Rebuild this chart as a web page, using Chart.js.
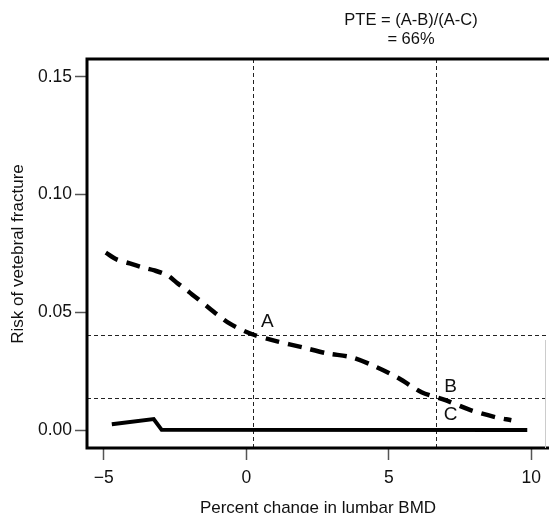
<!DOCTYPE html>
<html>
<head>
<meta charset="utf-8">
<script src="https://cdn.jsdelivr.net/npm/chart.js@4/dist/chart.umd.min.js"></script>
<style>
  html, body { margin: 0; padding: 0; background: #fff; }
  #wrap { width: 549px; height: 513px; position: relative; }
</style>
</head>
<body>
<div id="wrap"><canvas id="c" width="549" height="513"></canvas></div>
<script>
// Data
const treatedX = [-4.93, -4.55, -4.09, -3.64, -3.22, -2.76, -2.45, -2.03, -1.33, -0.59, 0.21, 1.08, 1.96, 2.83, 3.71, 4.58, 5.35, 6.15, 6.99, 7.87, 8.74, 9.30];
const treatedY = [0.0754, 0.0725, 0.0708, 0.0691, 0.0678, 0.0657, 0.0627, 0.0589, 0.0521, 0.0453, 0.0407, 0.0377, 0.0352, 0.0326, 0.0309, 0.0267, 0.0220, 0.0161, 0.0127, 0.0085, 0.0055, 0.0042];
const controlX = [-4.72, -3.25, -2.97, 9.86];
const controlY = [0.0025, 0.0047, 0.0001, 0.0];
const refX = [0.25, 6.64];          // vertical dotted lines
const refY = [0.0403, 0.0136];      // horizontal dotted lines
const xTicks = [-5, 0, 5, 10];
const yTicks = [0.00, 0.05, 0.10, 0.15];
const pointLabels = [
  { text: 'A', x: 0.74, y: 0.0462 },
  { text: 'B', x: 7.17, y: 0.0186 },
  { text: 'C', x: 7.17, y: 0.0064 }
];
const titleLines = ['PTE = (A-B)/(A-C)', '= 66%'];
const xTitle = 'Percent change in lumbar BMD';
const yTitle = 'Risk of vetebral fracture';

const FONT = '"Liberation Sans", Arial, Helvetica, sans-serif';

const toPts = (xs, ys) => xs.map((x, i) => ({ x: x, y: ys[i] }));

const decor = {
  id: 'decor',
  beforeDatasetsDraw(chart) {
    const { ctx, chartArea: a, scales: { x, y } } = chart;
    ctx.save();
    ctx.strokeStyle = '#222';
    ctx.lineWidth = 1;
    ctx.setLineDash([4, 3]);
    refX.forEach(v => {
      const px = Math.round(x.getPixelForValue(v)) + 0.5;
      ctx.beginPath(); ctx.moveTo(px, a.top); ctx.lineTo(px, a.bottom); ctx.stroke();
    });
    refY.forEach(v => {
      const py = Math.round(y.getPixelForValue(v)) + 0.5;
      ctx.beginPath(); ctx.moveTo(a.left, py); ctx.lineTo(a.right + 5, py); ctx.stroke();
    });
    ctx.restore();
  },
  afterDraw(chart) {
    const { ctx, chartArea: a, scales: { x, y } } = chart;
    ctx.save();
    // frame (left, top, bottom)
    ctx.strokeStyle = '#000';
    ctx.lineWidth = 3;
    ctx.setLineDash([]);
    ctx.beginPath();
    ctx.moveTo(a.right + 5, a.top);
    ctx.lineTo(a.left, a.top);
    ctx.lineTo(a.left, a.bottom);
    ctx.lineTo(a.right + 5, a.bottom);
    ctx.stroke();
    // faint right edge
    ctx.strokeStyle = '#ccc';
    ctx.lineWidth = 1;
    ctx.beginPath(); ctx.moveTo(545.5, 340); ctx.lineTo(545.5, a.bottom); ctx.stroke();

    ctx.fillStyle = '#111';
    ctx.textAlign = 'center';
    ctx.textBaseline = 'middle';
    ctx.font = '19px ' + FONT;
    pointLabels.forEach(p => {
      ctx.fillText(p.text, x.getPixelForValue(p.x), y.getPixelForValue(p.y));
    });
    ctx.font = '16.5px ' + FONT;
    ctx.fillText(titleLines[0], 411, 20);
    ctx.fillText(titleLines[1], 411, 39);
    ctx.font = '17px ' + FONT;
    ctx.fillText(xTitle, 318, 508);
    ctx.translate(18, 254);
    ctx.rotate(-Math.PI / 2);
    ctx.fillText(yTitle, 0, 0);
    ctx.restore();
  }
};

new Chart(document.getElementById('c'), {
  type: 'line',
  data: {
    datasets: [
      {
        label: 'Treated',
        data: toPts(treatedX, treatedY),
        borderColor: '#000',
        borderWidth: 4.5,
        borderDash: [14, 9],
        borderCapStyle: 'butt',
        pointRadius: 0,
        tension: 0.3,
        fill: false
      },
      {
        label: 'Control',
        data: toPts(controlX, controlY),
        borderColor: '#000',
        borderWidth: 4,
        pointRadius: 0,
        tension: 0,
        fill: false
      }
    ]
  },
  options: {
    responsive: false,
    animation: false,
    events: [],
    layout: { padding: { top: 59, right: 0, left: 0, bottom: 0 } },
    plugins: { legend: { display: false }, tooltip: { enabled: false }, title: { display: false } },
    scales: {
      x: {
        type: 'linear',
        min: -5.59,
        max: 10.5,
        afterBuildTicks: s => { s.ticks = xTicks.map(v => ({ value: v })); },
        afterFit: s => { s.height = 65; },
        grid: { drawOnChartArea: false, drawTicks: true, tickLength: 12, tickWidth: 1.5, tickColor: '#555' },
        border: { display: false },
        ticks: {
          color: '#111',
          font: { family: FONT, size: 17.5 },
          padding: 8,
          maxRotation: 0,
          autoSkip: false,
          callback: v => (v < 0 ? '\u2212' + Math.abs(v) : String(v))
        }
      },
      y: {
        type: 'linear',
        min: -0.0076,
        max: 0.1576,
        afterBuildTicks: s => { s.ticks = yTicks.map(v => ({ value: v })); },
        afterFit: s => { s.width = 87; },
        grid: { drawOnChartArea: false, drawTicks: true, tickLength: 12, tickWidth: 1.5, tickColor: '#555' },
        border: { display: false },
        ticks: {
          color: '#111',
          font: { family: FONT, size: 17.5 },
          padding: 3,
          autoSkip: false,
          callback: v => v.toFixed(2)
        }
      }
    }
  },
  plugins: [decor]
});
</script>
</body>
</html>
